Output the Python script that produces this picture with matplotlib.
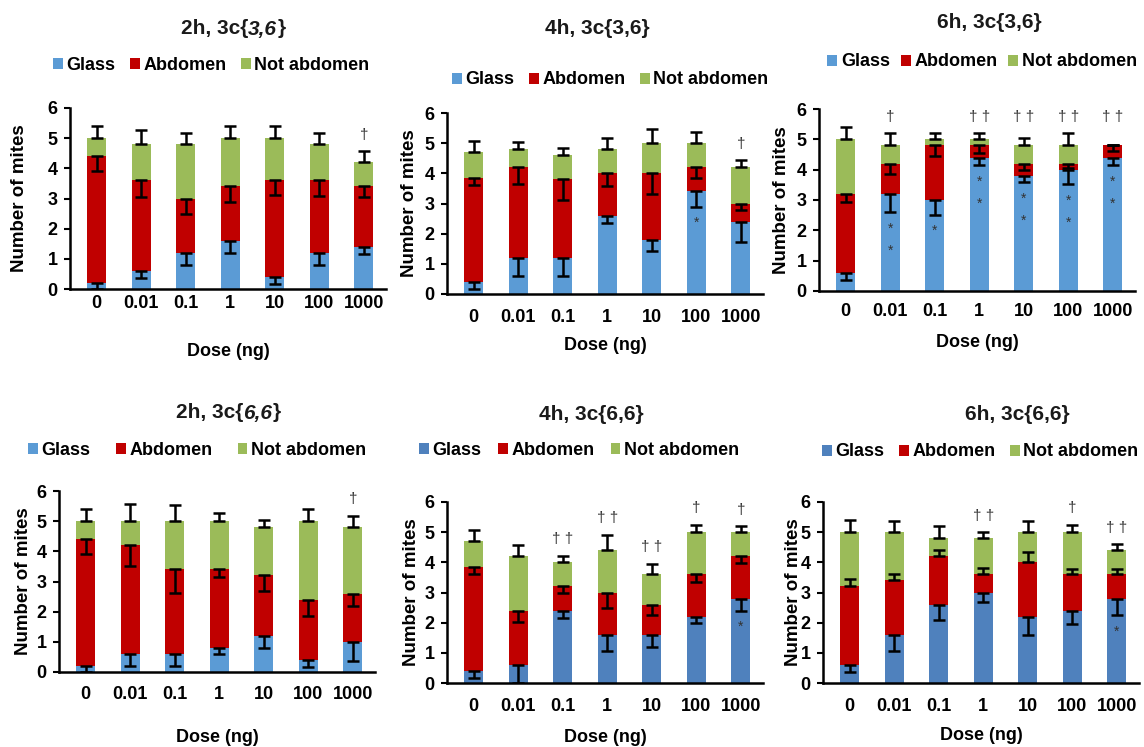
import matplotlib
matplotlib.use('Agg')
import matplotlib.pyplot as plt
from matplotlib.patches import Patch
import numpy as np

plt.rcParams['font.family'] = 'Liberation Sans'
plt.rcParams['font.weight'] = 'bold'

doses = ['0', '0.01', '0.1', '1', '10', '100', '1000']

# mean number of mites per location, with SE
glass_2h_36 = [0.2, 0.6, 1.2, 1.6, 0.4, 1.2, 1.4]
abd_2h_36 = [4.2, 3.0, 1.8, 1.8, 3.2, 2.4, 2.0]
notab_2h_36 = [0.6, 1.2, 1.8, 1.6, 1.4, 1.2, 0.8]
glass_err_2h_36 = [0.2, 0.25, 0.4, 0.4, 0.25, 0.4, 0.23]
abd_err_2h_36 = [0.5, 0.55, 0.5, 0.5, 0.5, 0.53, 0.35]
notab_err_2h_36 = [0.4, 0.48, 0.37, 0.4, 0.4, 0.37, 0.37]

glass_4h_36 = [0.4, 1.2, 1.2, 2.6, 1.8, 3.4, 2.4]
abd_4h_36 = [3.45, 3.0, 2.6, 1.4, 2.2, 0.8, 0.6]
notab_4h_36 = [0.85, 0.6, 0.8, 0.8, 1.0, 0.8, 1.2]
glass_err_4h_36 = [0.25, 0.6, 0.6, 0.25, 0.38, 0.5, 0.68]
abd_err_4h_36 = [0.25, 0.55, 0.7, 0.42, 0.68, 0.37, 0.23]
notab_err_4h_36 = [0.37, 0.25, 0.23, 0.38, 0.47, 0.38, 0.23]

glass_6h_36 = [0.6, 3.2, 3.0, 4.4, 3.8, 4.0, 4.4]
abd_6h_36 = [2.6, 1.0, 1.8, 0.4, 0.4, 0.2, 0.4]
notab_6h_36 = [1.8, 0.6, 0.2, 0.2, 0.6, 0.6, 0.0]
glass_err_6h_36 = [0.25, 0.6, 0.48, 0.24, 0.2, 0.47, 0.24]
abd_err_6h_36 = [0.27, 0.33, 0.35, 0.24, 0.2, 0.15, 0.2]
notab_err_6h_36 = [0.42, 0.4, 0.2, 0.2, 0.23, 0.4, 0.0]

glass_2h_66 = [0.2, 0.6, 0.6, 0.8, 1.2, 0.4, 1.0]
abd_2h_66 = [4.2, 3.6, 2.8, 2.6, 2.0, 2.0, 1.6]
notab_2h_66 = [0.6, 0.8, 1.6, 1.6, 1.6, 2.6, 2.2]
glass_err_2h_66 = [0.2, 0.4, 0.4, 0.2, 0.4, 0.22, 0.63]
abd_err_2h_66 = [0.5, 0.68, 0.78, 0.26, 0.53, 0.53, 0.4]
notab_err_2h_66 = [0.39, 0.57, 0.53, 0.26, 0.24, 0.4, 0.38]

glass_4h_66 = [0.4, 0.6, 2.4, 1.6, 1.6, 2.2, 2.8]
abd_4h_66 = [3.45, 1.8, 0.8, 1.4, 1.0, 1.4, 1.4]
notab_4h_66 = [0.85, 1.8, 0.8, 1.4, 1.0, 1.4, 0.8]
glass_err_4h_66 = [0.23, 0.6, 0.23, 0.55, 0.4, 0.22, 0.4]
abd_err_4h_66 = [0.25, 0.38, 0.23, 0.5, 0.35, 0.25, 0.23]
notab_err_4h_66 = [0.36, 0.37, 0.22, 0.52, 0.35, 0.25, 0.2]

glass_6h_66 = [0.6, 1.6, 2.6, 3.0, 2.2, 2.4, 2.8]
abd_6h_66 = [2.6, 1.8, 1.6, 0.6, 1.8, 1.2, 0.8]
notab_6h_66 = [1.8, 1.6, 0.6, 1.2, 1.0, 1.4, 0.8]
glass_err_6h_66 = [0.25, 0.55, 0.52, 0.33, 0.6, 0.45, 0.55]
abd_err_6h_66 = [0.25, 0.2, 0.22, 0.22, 0.35, 0.18, 0.18]
notab_err_6h_66 = [0.4, 0.38, 0.4, 0.2, 0.38, 0.25, 0.2]

# significance marks: number of daggers above, asterisks inside the glass bar
dagger_2h_36 = [0, 0, 0, 0, 0, 0, 1]
dagger_4h_36 = [0, 0, 0, 0, 0, 0, 1]
dagger_6h_36 = [0, 1, 0, 2, 2, 2, 2]
dagger_2h_66 = [0, 0, 0, 0, 0, 0, 1]
dagger_4h_66 = [0, 0, 2, 2, 2, 1, 1]
dagger_6h_66 = [0, 0, 0, 2, 0, 1, 2]
star_2h_36 = [0, 0, 0, 0, 0, 0, 0]
star_4h_36 = [0, 0, 0, 0, 0, 1, 0]
star_6h_36 = [0, 2, 1, 2, 2, 2, 2]
star_2h_66 = [0, 0, 0, 0, 0, 0, 0]
star_4h_66 = [0, 0, 0, 0, 0, 0, 1]
star_6h_66 = [0, 0, 0, 0, 0, 0, 1]

RED = '#C00000'
GREEN = '#9BBB59'
BLUE_A = '#5B9BD5'
BLUE_B = '#4F81BD'

W, H = 1144, 747

# title pieces: (text, italic?)
panels = [
    dict(title=[('2h, 3c{', False), ('3,6', True), ('}', False)],
         g=glass_2h_36, a=abd_2h_36, n=notab_2h_36,
         ge=glass_err_2h_36, ae=abd_err_2h_36, ne=notab_err_2h_36,
         dag=dagger_2h_36, star=star_2h_36, blue=BLUE_A, abd_up=False, dag_min=0,
         left=70, y0=289, y6=108, title_xy=(233, 29), leg_xy=(211, 65), colsp=0.8,
         ylab_dx=50, xlab_dy=63, xpad=4.3),
    dict(title=[('4h, 3c{3,6}', False)],
         g=glass_4h_36, a=abd_4h_36, n=notab_4h_36,
         ge=glass_err_4h_36, ae=abd_err_4h_36, ne=notab_err_4h_36,
         dag=dagger_4h_36, star=star_4h_36, blue=BLUE_A, abd_up=False, dag_min=0,
         left=447, y0=294, y6=113, title_xy=(597, 28), leg_xy=(610, 80), colsp=0.8,
         ylab_dx=38, xlab_dy=51, xpad=11),
    dict(title=[('6h, 3c{3,6}', False)],
         g=glass_6h_36, a=abd_6h_36, n=notab_6h_36,
         ge=glass_err_6h_36, ae=abd_err_6h_36, ne=notab_err_6h_36,
         dag=dagger_6h_36, star=star_6h_36, blue=BLUE_A, abd_up=False, dag_min=5.75,
         left=819, y0=291, y6=109, title_xy=(989, 22), leg_xy=(982, 62), colsp=0.6,
         ylab_dx=37, xlab_dy=52, xpad=8.5),
    dict(title=[('2h, 3c{', False), ('6,6', True), ('}', False)],
         g=glass_2h_66, a=abd_2h_66, n=notab_2h_66,
         ge=glass_err_2h_66, ae=abd_err_2h_66, ne=notab_err_2h_66,
         dag=dagger_2h_66, star=star_2h_66, blue=BLUE_A, abd_up=False, dag_min=0,
         left=59, y0=672, y6=491, title_xy=(228, 413), leg_xy=(197, 450), colsp=1.4,
         ylab_dx=35, xlab_dy=65, xpad=10),
    dict(title=[('4h, 3c{6,6}', False)],
         g=glass_4h_66, a=abd_4h_66, n=notab_4h_66,
         ge=glass_err_4h_66, ae=abd_err_4h_66, ne=notab_err_4h_66,
         dag=dagger_4h_66, star=star_4h_66, blue=BLUE_B, abd_up=False, dag_min=0,
         left=447, y0=683, y6=502, title_xy=(591, 415), leg_xy=(579, 450), colsp=0.9,
         ylab_dx=35, xlab_dy=54, xpad=11),
    dict(title=[('6h, 3c{6,6}', False)],
         g=glass_6h_66, a=abd_6h_66, n=notab_6h_66,
         ge=glass_err_6h_66, ae=abd_err_6h_66, ne=notab_err_6h_66,
         dag=dagger_6h_66, star=star_6h_66, blue=BLUE_B, abd_up=True, dag_min=0,
         left=823, y0=683, y6=502, title_xy=(1017, 415), leg_xy=(980, 452), colsp=0.8,
         ylab_dx=29, xlab_dy=52, xpad=11),
]

fig = plt.figure(figsize=(W / 100, H / 100), dpi=100)
fig.patch.set_facecolor('white')
renderer = fig.canvas.get_renderer()


def draw_title(parts, cx, cy):
    """Title made of upright/italic runs, centred on (cx, cy) in pixels."""
    texts = []
    for s, it in parts:
        t = fig.text(0, 1 - cy / H, s, ha='left', va='center', fontsize=15,
                     fontweight='bold', style='italic' if it else 'normal',
                     color='#1a1a1a')
        texts.append(t)
    widths = [t.get_window_extent(renderer).width for t in texts]
    xpos = cx - sum(widths) / 2
    for t, w in zip(texts, widths):
        t.set_x(xpos / W)
        xpos += w


x = np.arange(len(doses))
bw = 0.42
ax_w = 316
err_kw = dict(fmt='none', ecolor='black', elinewidth=1.8, capsize=4, capthick=1.8, zorder=4)

for p in panels:
    ax_h = p['y0'] - p['y6']
    ax = fig.add_axes([p['left'] / W, (H - p['y0']) / H, ax_w / W, ax_h / H])
    g = np.array(p['g'])
    a = np.array(p['a'])
    n = np.array(p['n'])
    zero = np.zeros_like(g)

    ax.bar(x, g, bw, color=p['blue'], zorder=2)
    ax.bar(x, a, bw, bottom=g, color=RED, zorder=2)
    ax.bar(x, n, bw, bottom=g + a, color=GREEN, zorder=2)

    ax.errorbar(x, g, yerr=[p['ge'], zero], **err_kw)
    if p['abd_up']:
        ax.errorbar(x, g + a, yerr=[zero, p['ae']], **err_kw)
    else:
        ax.errorbar(x, g + a, yerr=[p['ae'], zero], **err_kw)
    top = g + a + n
    ax.errorbar(x, top, yerr=[zero, p['ne']], **err_kw)

    # daggers over the bars, asterisks inside the glass segment
    for i in range(len(doses)):
        if p['dag'][i]:
            yd = max(top[i] + p['ne'][i] + 0.55, p['dag_min'])
            ax.text(x[i], yd, ' '.join(['\u2020'] * p['dag'][i]),
                    ha='center', va='center', fontsize=11, fontweight='normal',
                    color='#333333', clip_on=False)
        for k in range(p['star'][i]):
            ax.text(x[i], g[i] - p['ge'][i] - 0.55 - 0.72 * k, '*',
                    ha='center', va='center', fontsize=10, fontweight='normal',
                    color='#333333')

    ax.set_xlim(-0.6, 6.5)
    ax.set_ylim(0, 6)
    ax.set_yticks(range(7))
    ax.set_xticks(x)
    ax.set_xticklabels(doses)
    ax.tick_params(axis='x', length=0, pad=p['xpad'], labelsize=13)
    ax.tick_params(axis='y', length=4, width=1.5, pad=5, labelsize=13)
    for s in ['top', 'right']:
        ax.spines[s].set_visible(False)
    for s in ['left', 'bottom']:
        ax.spines[s].set_linewidth(1.8)

    ax.set_ylabel('Number of mites', fontsize=13.5, fontweight='bold', va='center')
    ax.yaxis.set_label_coords(-p['ylab_dx'] / ax_w, 0.5)
    ax.set_xlabel('Dose (ng)', fontsize=13, fontweight='bold', va='center')
    ax.xaxis.set_label_coords(0.5, -p['xlab_dy'] / ax_h)

    draw_title(p['title'], *p['title_xy'])

    handles = [Patch(facecolor=p['blue']), Patch(facecolor=RED), Patch(facecolor=GREEN)]
    lx, ly = p['leg_xy']
    fig.legend(handles, ['Glass', 'Abdomen', 'Not abdomen'], loc='center',
               bbox_to_anchor=(lx / W, 1 - ly / H), ncol=3, frameon=False,
               prop={'size': 13, 'weight': 'bold'}, handlelength=0.55, handleheight=0.55,
               handletextpad=0.2, columnspacing=p['colsp'], borderpad=0, borderaxespad=0)

plt.savefig('out.png', dpi=100, facecolor='white')
